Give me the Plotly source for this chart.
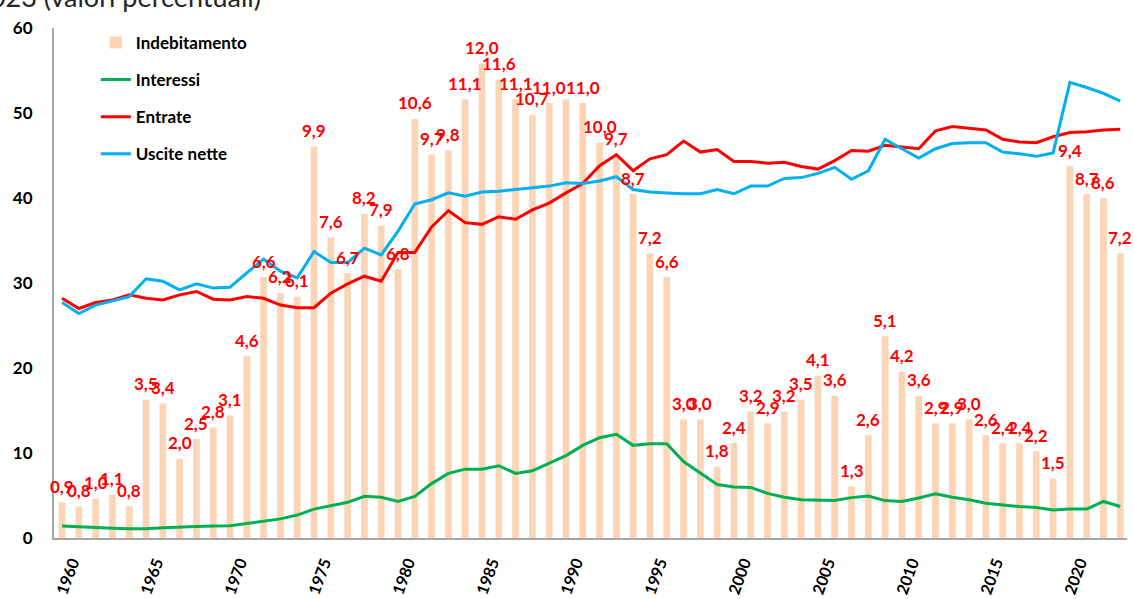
import plotly.graph_objects as go

years = list(range(1960, 2024))

indebitamento = [0.9, 0.8, 1.0, 1.1, 0.8, 3.5, 3.4, 2.0, 2.5, 2.8,
                 3.1, 4.6, 6.6, 6.2, 6.1, 9.9, 7.6, 6.7, 8.2, 7.9,
                 6.8, 10.6, 9.7, 9.8, 11.1, 12.0, 11.6, 11.1, 10.7, 11.0,
                 11.1, 11.0, 10.0, 9.7, 8.7, 7.2, 6.6, 3.0, 3.0, 1.8,
                 2.4, 3.2, 2.9, 3.2, 3.5, 4.1, 3.6, 1.3, 2.6, 5.1,
                 4.2, 3.6, 2.9, 2.9, 3.0, 2.6, 2.4, 2.4, 2.2, 1.5,
                 9.4, 8.7, 8.6, 7.2]

# labels shown on bars ("" = no label in the original)
etichette = ["0,9", "0,8", "1,0", "1,1", "0,8", "3,5", "3,4", "2,0", "2,5", "2,8",
             "3,1", "4,6", "6,6", "6,2", "6,1", "9,9", "7,6", "6,7", "8,2", "7,9",
             "6,8", "10,6", "9,7", "9,8", "11,1", "12,0", "11,6", "11,1", "10,7", "11,0",
             "", "11,0", "10,0", "9,7", "8,7", "7,2", "6,6", "3,0", "3,0", "1,8",
             "2,4", "3,2", "2,9", "3,2", "3,5", "4,1", "3,6", "1,3", "2,6", "5,1",
             "4,2", "3,6", "2,9", "2,9", "3,0", "2,6", "2,4", "2,4", "2,2", "1,5",
             "9,4", "8,7", "8,6", "7,2"]

interessi = [1.4, 1.3, 1.25, 1.15, 1.1, 1.1, 1.2, 1.3, 1.35, 1.4,
             1.45, 1.7, 2.0, 2.25, 2.7, 3.4, 3.8, 4.2, 4.9, 4.8,
             4.3, 4.9, 6.4, 7.6, 8.1, 8.1, 8.5, 7.6, 7.9, 8.8,
             9.7, 10.9, 11.8, 12.2, 10.9, 11.1, 11.1, 9.0, 7.7, 6.3,
             6.0, 5.95, 5.25, 4.8, 4.5, 4.45, 4.4, 4.75, 4.95, 4.4,
             4.3, 4.7, 5.2, 4.8, 4.5, 4.1, 3.9, 3.7, 3.6, 3.3,
             3.4, 3.4, 4.3, 3.7]

entrate = [28.2, 27.0, 27.7, 28.0, 28.6, 28.2, 28.0, 28.6, 29.0, 28.1,
           28.0, 28.4, 28.2, 27.4, 27.1, 27.1, 28.8, 29.9, 30.8, 30.2,
           33.6, 33.6, 36.6, 38.5, 37.1, 36.9, 37.8, 37.5, 38.6, 39.4,
           40.6, 41.7, 43.8, 45.1, 43.2, 44.6, 45.1, 46.7, 45.4, 45.7,
           44.3, 44.3, 44.1, 44.2, 43.7, 43.4, 44.4, 45.6, 45.5, 46.2,
           46.0, 45.8, 47.9, 48.4, 48.2, 48.0, 46.9, 46.6, 46.5, 47.2,
           47.7, 47.8, 48.0, 48.1]

uscite_nette = [27.7, 26.4, 27.4, 27.9, 28.4, 30.5, 30.2, 29.2, 29.9, 29.4,
                29.5, 31.2, 32.8, 31.4, 30.6, 33.7, 32.4, 32.4, 34.1, 33.3,
                36.1, 39.3, 39.8, 40.6, 40.2, 40.7, 40.8, 41.0, 41.2, 41.4,
                41.8, 41.7, 42.0, 42.5, 41.0, 40.7, 40.6, 40.5, 40.5, 41.0,
                40.5, 41.4, 41.4, 42.3, 42.4, 42.9, 43.6, 42.2, 43.2, 46.9,
                45.8, 44.7, 45.8, 46.4, 46.5, 46.5, 45.4, 45.2, 44.9, 45.3,
                53.6, 53.0, 52.3, 51.4]

tick_years = list(range(1960, 2021, 5))
tick_left = [0, 10, 20, 30, 40, 50, 60]

FONT = "Lato, Carlito, Calibri, sans-serif"
BAR_C = "#FBD5B5"
GREEN = "#00B050"
RED = "#FF0000"
BLUE = "#00B0F0"

fig = go.Figure()

fig.add_trace(go.Bar(
    x=years, y=indebitamento, name="Indebitamento",
    marker=dict(color=BAR_C, line=dict(width=0)),
    width=0.4, yaxis="y", legendgroup="a", hoverinfo="x+y",
))
fig.add_trace(go.Scatter(
    x=years, y=interessi, name="Interessi", mode="lines",
    line=dict(color=GREEN, width=3), yaxis="y2", legendgroup="b",
))
fig.add_trace(go.Scatter(
    x=years, y=entrate, name="Entrate", mode="lines",
    line=dict(color=RED, width=3), yaxis="y2", legendgroup="c",
))
fig.add_trace(go.Scatter(
    x=years, y=uscite_nette, name="Uscite nette", mode="lines",
    line=dict(color=BLUE, width=3), yaxis="y2", legendgroup="d",
))

annotations = []
for yr, v, t in zip(years, indebitamento, etichette):
    if t:
        annotations.append(dict(
            x=yr, y=v, xref="x", yref="y", text=t, showarrow=False,
            yshift=16, xanchor="center", yanchor="middle",
            font=dict(family=FONT, size=17, color=RED, weight="bold"),
        ))

annotations.append(dict(
    x=0.195, y=1.061, xref="paper", yref="paper",
    text="Indebitamento netto, interessi, entrate e uscite nette delle AP 1960-2023 (valori percentuali)",
    showarrow=False, xanchor="right", yanchor="middle",
    font=dict(family=FONT, size=27, color="#262626"),
))

fig.update_layout(
    width=1134, height=599,
    margin=dict(l=54, r=7, t=28, b=61, autoexpand=False),
    paper_bgcolor="white", plot_bgcolor="white",
    font=dict(family=FONT, size=16, color="black"),
    showlegend=True,
    barmode="overlay",
    legend=dict(
        x=0.039, y=1.006, xanchor="left", yanchor="top",
        bgcolor="rgba(0,0,0,0)", tracegroupgap=12,
        font=dict(family=FONT, size=17, color="black", weight="bold"),
        itemwidth=30,
    ),
    xaxis=dict(
        range=[1959.52, 2023.4], tickmode="array", tickvals=tick_years,
        ticktext=[str(t) for t in tick_years], tickangle=-70,
        showline=True, linecolor="#A6A6A6", linewidth=2, automargin=False,
        showgrid=False, zeroline=False, ticks="", ticklabelstandoff=7,
        ticklabelshift=10,
        tickfont=dict(family=FONT, size=16, color="black", weight="bold"),
    ),
    yaxis=dict(
        range=[0, 12.9], visible=False, showgrid=False, zeroline=False,
        automargin=False,
    ),
    yaxis2=dict(
        overlaying="y", side="left", anchor="x", range=[0, 60],
        tickmode="array", tickvals=tick_left, automargin=False,
        showline=True, linecolor="#A6A6A6", linewidth=2,
        showgrid=False, zeroline=False, ticks="", ticklabelstandoff=16,
        tickfont=dict(family=FONT, size=17, color="black", weight="bold"),
    ),
    annotations=annotations,
)

fig.write_html("out.html", config={"displayModeBar": False},
               post_script="document.body.style.margin='0';")
